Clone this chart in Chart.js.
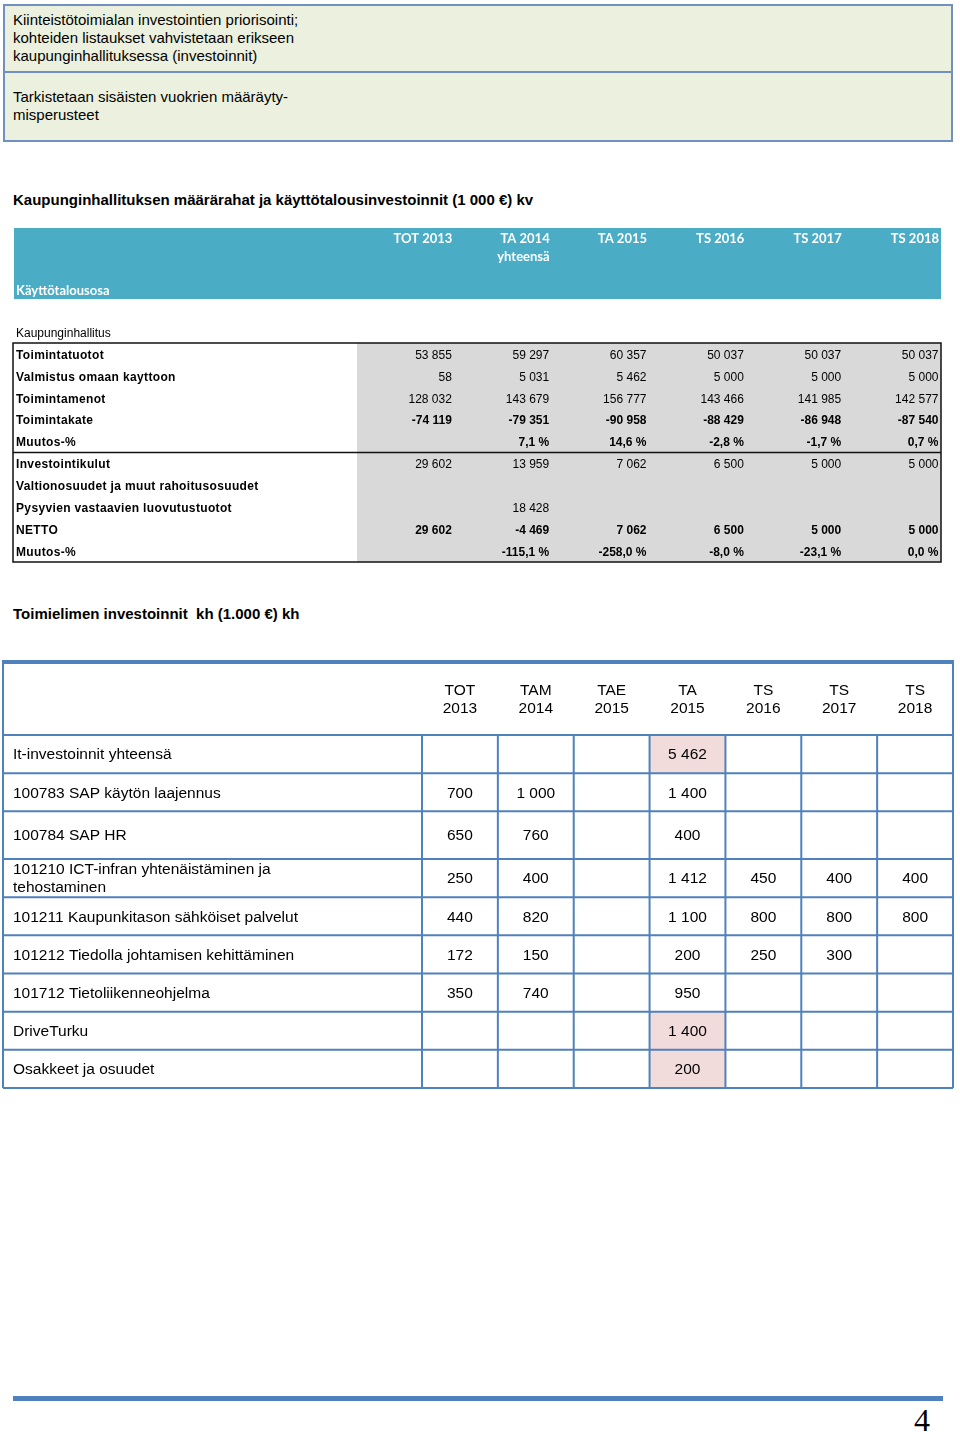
<!DOCTYPE html>
<html lang="fi">
<head>
<meta charset="utf-8">
<title>Kaupunginhallitus – määrärahat ja investoinnit</title>
<script src="https://cdn.jsdelivr.net/npm/chart.js@4.4.1/dist/chart.umd.min.js"></script>
<style>
    html, body { margin: 0; padding: 0; background: #fff; }
    body {
        width: 960px; height: 1432px; position: relative; overflow: hidden;
        font-family: "Liberation Sans", Arial, sans-serif; color: #000;
    }
    .box {
        position: absolute; left: 3px; top: 4px; width: 946px; height: 134px;
        border: 2px solid #7090c0; background: #ebf1de;
    }
    .box div { font-size: 15px; line-height: 18px; padding-left: 8px; box-sizing: border-box; }
    .box .s1 { height: 67px; padding-top: 5px; border-bottom: 2px solid #7090c0; }
    .box .s2 { padding-top: 15px; }
    .title { position: absolute; left: 13px; font-size: 15px; line-height: 18px; font-weight: bold; white-space: nowrap; }
    canvas { position: absolute; left: 0; }
    .footline { position: absolute; left: 13px; top: 1396px; width: 930px; height: 5px; background: #4f81bd; }
    .pagenum { position: absolute; left: 914px; top: 1404px; font-family: "Liberation Serif", serif; font-size: 32px; line-height: 32px; }
</style>
</head>
<body>
<div class="box">
    <div class="s1">Kiinteistötoimialan investointien priorisointi;<br>kohteiden listaukset vahvistetaan erikseen<br>kaupunginhallituksessa (investoinnit)</div>
    <div class="s2">Tarkistetaan sisäisten vuokrien määräyty-<br>misperusteet</div>
</div>
<div class="title" style="top:191px">Kaupunginhallituksen määrärahat ja käyttötalousinvestoinnit (1 000 €) kv</div>
<canvas id="kvTable" width="960" height="350" style="top:220px"></canvas>
<div class="title" style="top:605px">Toimielimen investoinnit&nbsp; kh (1.000 €) kh</div>
<canvas id="khTable" width="960" height="450" style="top:650px"></canvas>
<div class="footline"></div>
<div class="pagenum">4</div>

<script>
// --- Taulukko 1: määrärahat ja käyttötalousinvestoinnit (1 000 €) ---
const kvColumns = [['TOT 2013'], ['TA 2014', 'yhteensä'], ['TA 2015'], ['TS 2016'], ['TS 2017'], ['TS 2018']];
const kvRows = [
    'Toimintatuotot', 'Valmistus omaan kayttoon', 'Toimintamenot', 'Toimintakate', 'Muutos-%',
    'Investointikulut', 'Valtionosuudet ja muut rahoitusosuudet', 'Pysyvien vastaavien luovutustuotot',
    'NETTO', 'Muutos-%'
];
const tot2013 = [53855, 58, 128032, -74119, null, 29602, null, null, 29602, null];
const ta2014 = [59297, 5031, 143679, -79351, 7.1, 13959, null, 18428, -4469, -115.1];
const ta2015 = [60357, 5462, 156777, -90958, 14.6, 7062, null, null, 7062, -258.0];
const ts2016 = [50037, 5000, 143466, -88429, -2.8, 6500, null, null, 6500, -8.0];
const ts2017 = [50037, 5000, 141985, -86948, -1.7, 5000, null, null, 5000, -23.1];
const ts2018 = [50037, 5000, 142577, -87540, 0.7, 5000, null, null, 5000, 0.0];
const kvPercentRows = [4, 9];

// --- Taulukko 2: toimielimen investoinnit (1 000 €) ---
const khColumns = [['TOT', '2013'], ['TAM', '2014'], ['TAE', '2015'], ['TA', '2015'], ['TS', '2016'], ['TS', '2017'], ['TS', '2018']];
const khRows = [
    ['It-investoinnit yhteensä'], ['100783 SAP käytön laajennus'], ['100784 SAP HR'],
    ['101210 ICT-infran yhtenäistäminen ja', 'tehostaminen'], ['101211 Kaupunkitason sähköiset palvelut'],
    ['101212 Tiedolla johtamisen kehittäminen'], ['101712 Tietoliikenneohjelma'], ['DriveTurku'], ['Osakkeet ja osuudet']
];
const khTot2013 = [null, 700, 650, 250, 440, 172, 350, null, null];
const khTam2014 = [null, 1000, 760, 400, 820, 150, 740, null, null];
const khTae2015 = [null, null, null, null, null, null, null, null, null];
const khTa2015 = [5462, 1400, 400, 1412, 1100, 200, 950, 1400, 200];
const khTs2016 = [null, null, null, 450, 800, 250, null, null, null];
const khTs2017 = [null, null, null, 400, 800, 300, null, null, null];
const khTs2018 = [null, null, null, 400, 800, null, null, null, null];

// tyylit
const FONT = '"Liberation Sans", Arial, sans-serif';
const kvBoldRows = [3, 4, 8, 9];
const khHighlight = [[0, 3], [7, 3], [8, 3]]; // [rivi, sarake]
const khRowWeights = [1, 1, 1.25, 1, 1, 1, 1, 1, 1]; // SAP HR -rivi on muita korkeampi

function fmtNum(v) {
    const s = Math.abs(v).toString().replace(/\B(?=(\d{3})+(?!\d))/g, ' ');
    return (v < 0 ? '-' : '') + s;
}
function fmtPct(v) {
    return v.toFixed(1).replace('.', ',') + ' %';
}

function hline(ctx, x0, x1, yy) {
    ctx.beginPath(); ctx.moveTo(x0, yy); ctx.lineTo(x1, yy); ctx.stroke();
}
function vline(ctx, xx, y0, y1) {
    ctx.beginPath(); ctx.moveTo(xx, y0); ctx.lineTo(xx, y1); ctx.stroke();
}

const baseOptions = {
    responsive: false,
    animation: false,
    events: [],
    plugins: { legend: { display: false }, tooltip: { enabled: false } }
};

// Taulukko 1 piirto
const kvSeries = [tot2013, ta2014, ta2015, ts2016, ts2017, ts2018];
const kvTablePlugin = {
    id: 'kvTable',
    beforeDraw(chart) {
        const { ctx, chartArea: a } = chart;
        ctx.save();
        // otsikkokaista
        ctx.fillStyle = '#4bacc6';
        ctx.fillRect(14, a.top - 115, a.right - 14, 71);
        // harmaa lukualue
        ctx.fillStyle = '#d9d9d9';
        ctx.fillRect(a.left, a.top, a.right - a.left, a.bottom - a.top);
        ctx.restore();
    },
    afterDraw(chart) {
        const { ctx, chartArea: a, scales: { x, y } } = chart;
        const dy = 1.5;
        ctx.save();
        ctx.textBaseline = 'middle';

        // sarakeotsikot
        ctx.fillStyle = '#fff';
        ctx.font = 'bold 13px Lato, "Open Sans", sans-serif';
        ctx.textAlign = 'right';
        kvColumns.forEach((lines, j) => {
            const xr = x.getPixelForValue(j + 0.5) - 2;
            lines.forEach((t, k) => ctx.fillText(t, xr, a.top - 104 + k * 18));
        });
        ctx.textAlign = 'left';
        ctx.fillText('Käyttötalousosa', 16, a.top - 52);

        ctx.fillStyle = '#000';
        ctx.font = '12px ' + FONT;
        ctx.fillText('Kaupunginhallitus', 16, a.top - 9);

        // rivien nimet
        ctx.font = 'bold 12px ' + FONT;
        ctx.letterSpacing = '0.35px';
        kvRows.forEach((r, i) => ctx.fillText(r, 16, y.getPixelForValue(i) + dy));
        ctx.letterSpacing = '0px';

        // arvot
        ctx.textAlign = 'right';
        kvSeries.forEach((col, j) => {
            const xr = x.getPixelForValue(j + 0.5) - 2.5;
            col.forEach((v, i) => {
                if (v === null) return;
                ctx.font = (kvBoldRows.includes(i) ? 'bold ' : '') + '12px ' + FONT;
                const txt = kvPercentRows.includes(i) ? fmtPct(v) : fmtNum(v);
                ctx.fillText(txt, xr, y.getPixelForValue(i) + dy);
            });
        });

        // reunat
        ctx.strokeStyle = '#111';
        ctx.lineWidth = 1.5;
        ctx.strokeRect(13, a.top, a.right - 13, a.bottom - a.top);
        hline(ctx, 13, a.right, y.getPixelForValue(4.5));
        ctx.restore();
    }
};

new Chart(document.getElementById('kvTable'), {
    type: 'scatter',
    data: { datasets: [] },
    options: Object.assign({}, baseOptions, {
        layout: { padding: { left: 357, right: 19, top: 123, bottom: 8 } },
        scales: {
            x: { type: 'category', labels: kvColumns.map(c => c.join(' ')), offset: true, display: false },
            y: { type: 'category', labels: kvRows, offset: true, display: false }
        }
    }),
    plugins: [kvTablePlugin]
});

// Taulukko 2 piirto: rivien rajat painotettuina y-akselilla
const khSeries = [khTot2013, khTam2014, khTae2015, khTa2015, khTs2016, khTs2017, khTs2018];
const khEdges = khRowWeights.reduce((acc, w) => { acc.push(acc[acc.length - 1] + w); return acc; }, [0]);
const khRowMid = i => (khEdges[i] + khEdges[i + 1]) / 2;

const khTablePlugin = {
    id: 'khTable',
    beforeDraw(chart) {
        const { ctx, scales: { x, y } } = chart;
        ctx.save();
        ctx.fillStyle = '#f2dcdb';
        khHighlight.forEach(([i, j]) => {
            const x0 = x.getPixelForValue(j - 0.5), x1 = x.getPixelForValue(j + 0.5);
            const y0 = y.getPixelForValue(khEdges[i]), y1 = y.getPixelForValue(khEdges[i + 1]);
            ctx.fillRect(x0, y0, x1 - x0, y1 - y0);
        });
        ctx.restore();
    },
    afterDraw(chart) {
        const { ctx, chartArea: a, scales: { x, y } } = chart;
        const left = 3;
        const headTop = a.top - 74;
        const dy = 1;
        ctx.save();
        ctx.fillStyle = '#000';
        ctx.font = '15.5px ' + FONT;
        ctx.textBaseline = 'middle';

        // sarakeotsikot
        ctx.textAlign = 'center';
        khColumns.forEach((lines, j) => {
            lines.forEach((t, k) => ctx.fillText(t, x.getPixelForValue(j), a.top - 44 + k * 18));
        });

        // rivien nimet
        ctx.textAlign = 'left';
        khRows.forEach((lines, i) => {
            const yc = y.getPixelForValue(khRowMid(i)) - (lines.length - 1) * 9 + dy;
            lines.forEach((t, k) => ctx.fillText(t, 13, yc + k * 18));
        });

        // arvot
        ctx.textAlign = 'center';
        khSeries.forEach((col, j) => {
            col.forEach((v, i) => {
                if (v === null) return;
                ctx.fillText(fmtNum(v), x.getPixelForValue(j), y.getPixelForValue(khRowMid(i)) + dy);
            });
        });

        // ruudukko
        ctx.strokeStyle = '#4f81bd';
        ctx.lineWidth = 2;
        khEdges.forEach(e => hline(ctx, left, a.right, y.getPixelForValue(e)));
        for (let j = 0; j <= khColumns.length; j++) {
            vline(ctx, x.getPixelForValue(j - 0.5), a.top, a.bottom);
        }
        vline(ctx, left, headTop, a.bottom);
        vline(ctx, a.right, headTop, a.bottom);
        ctx.lineWidth = 4;
        hline(ctx, left - 1, a.right + 1, headTop + 1);
        ctx.restore();
    }
};

new Chart(document.getElementById('khTable'), {
    type: 'scatter',
    data: { datasets: [] },
    options: Object.assign({}, baseOptions, {
        layout: { padding: { left: 422, right: 7, top: 85, bottom: 12 } },
        scales: {
            x: { type: 'category', labels: khColumns.map(c => c.join(' ')), offset: true, display: false },
            y: { type: 'linear', min: 0, max: khEdges[khEdges.length - 1], reverse: true, display: false }
        }
    }),
    plugins: [khTablePlugin]
});
</script>
</body>
</html>
